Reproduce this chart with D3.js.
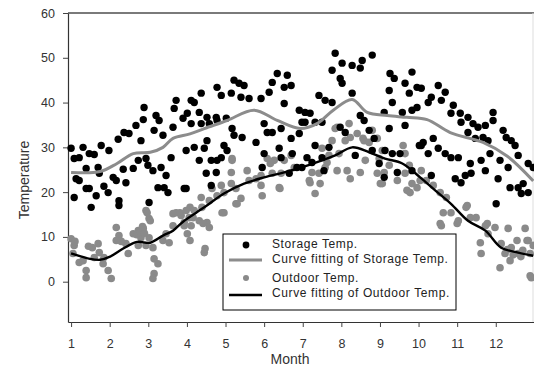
<!DOCTYPE html>
<html>
<head>
<meta charset="utf-8">
<script src="https://cdn.jsdelivr.net/npm/d3@7"></script>
<style>
  body { margin: 0; background: #fff; }
  svg { display: block; font-family: "Liberation Sans", Arial, sans-serif; }
</style>
</head>
<body>
<svg id="drawing_region"></svg>
<script>
// month, temperature
const storagePoints = [
  [1.00,29.8],[1.08,27.5],[1.21,27.7],[1.31,30.0],[1.47,28.6],[1.60,28.4],[1.78,30.4],[1.98,29.3],[2.22,31.8],[2.37,33.3],
  [2.50,33.1],[2.68,34.9],[2.89,38.9],[3.20,37.1],[3.28,36.0],[2.87,36.2],[2.81,31.5],[3.15,33.8],[3.38,32.7],[3.64,34.5],
  [3.72,40.5],[3.67,38.7],[3.90,36.5],[1.39,25.3],[1.13,23.0],[1.21,22.6],[1.70,25.5],[1.73,24.2],[2.09,23.3],[2.17,22.6],
  [1.85,21.3],[1.96,19.9],[1.39,20.8],[1.47,20.8],[1.08,18.8],[1.65,19.2],[1.52,16.6],[2.24,18.1],[2.24,17.0],[2.42,22.1],
  [2.35,25.1],[2.61,25.3],[2.74,27.1],[2.94,27.5],[2.99,26.0],[3.12,24.8],[3.33,25.5],[3.46,23.7],[3.25,21.0],[3.41,21.0],
  [3.51,19.9],[3.02,17.7],[3.59,27.7],[3.93,20.8],
  [4.11,40.5],[4.19,40.0],[4.37,42.1],[4.78,43.4],[4.89,41.6],[5.22,45.0],[5.35,44.3],[5.48,43.8],[5.15,42.1],[5.40,41.2],
  [5.61,40.9],[5.92,40.9],[6.13,42.3],[6.34,46.5],[6.60,46.1],[6.21,44.5],[6.52,43.4],[6.70,43.8],[6.52,39.8],[6.91,38.3],
  [4.01,37.6],[4.32,37.8],[4.52,36.7],[4.76,36.7],[4.78,36.0],[5.02,36.5],[4.11,35.3],[4.37,35.3],[4.58,35.3],[5.17,34.2],
  [5.22,32.7],[5.43,32.2],[5.79,31.1],[6.00,35.3],[6.08,33.3],[6.21,33.3],[6.44,34.2],[6.70,32.0],[6.91,33.1],[6.98,35.6],
  [3.98,29.3],[4.19,30.0],[4.45,29.8],[4.52,31.5],[4.96,30.4],[5.04,29.3],[4.89,27.7],[4.32,27.1],[4.63,27.1],[4.78,27.1],
  [6.00,28.6],[6.39,29.8],[6.44,27.7],[6.73,28.6],[4.50,24.2],[4.76,24.4],[5.95,25.5],[3.98,20.8],[4.63,21.5],[6.65,24.2],
  [6.85,25.5],
  [7.84,51.0],[8.02,48.8],[7.76,47.2],[8.28,48.3],[8.54,49.4],[8.80,50.6],[8.49,47.7],[7.97,45.4],[8.02,44.3],[9.26,46.5],
  [9.37,45.4],[9.83,46.8],[9.65,44.3],[9.24,42.7],[9.76,42.1],[9.96,43.4],[9.32,40.0],[9.58,37.8],[9.83,38.3],[9.96,38.9],
  [7.42,41.6],[7.58,40.5],[7.76,40.0],[8.28,42.1],[7.06,37.8],[7.19,37.6],[7.06,35.6],[7.32,35.6],[7.50,35.6],[8.49,37.1],
  [8.59,36.0],[9.11,37.8],[9.24,34.2],[9.65,34.9],[7.97,34.5],[8.10,33.3],[8.72,33.8],[8.85,32.0],[7.32,30.4],[7.68,30.0],
  [7.11,27.7],[7.24,26.6],[7.50,27.7],[8.36,28.2],[8.80,29.3],[9.13,29.3],[9.32,28.6],[9.52,28.6],[8.98,26.4],[9.83,24.8],
  [9.11,23.3],[9.45,24.4],[10.02,30.4],[6.98,25.5],[7.55,24.8],
  [10.07,43.2],[10.51,43.8],[10.69,42.3],[10.33,41.2],[10.59,40.5],[10.25,40.0],[10.90,39.4],[10.84,37.6],[11.08,37.6],[11.10,35.6],
  [11.28,36.7],[11.41,35.3],[11.54,34.5],[11.73,34.9],[11.93,37.8],[11.93,36.0],[11.28,33.3],[11.47,32.0],[11.67,32.2],[11.80,31.5],
  [11.85,28.6],[12.19,33.8],[12.27,32.2],[12.40,31.5],[12.50,30.4],[12.58,28.2],[12.11,27.1],[12.32,25.5],[12.84,26.4],[12.97,25.5],
  [12.37,21.0],[12.58,21.0],[12.71,21.9],[12.84,19.9],[12.66,19.7],[12.06,23.0],[12.01,17.4],[11.73,24.8],[11.36,24.2],[11.21,23.7],
  [10.95,23.0],[11.10,22.1],[11.34,26.4],[11.62,27.1],[10.12,31.1],[10.38,32.0],[10.07,30.4],[10.51,29.8],[10.69,28.6],[10.84,27.7],
  [11.03,27.7],[10.25,28.6],[10.33,23.7]
];

const outdoorPoints = [
  [1.00,9.6],[1.08,8.1],[1.05,6.3],[1.21,4.3],[1.39,2.5],[1.39,0.9],[1.31,4.7],[1.70,8.5],[1.73,6.5],[1.60,5.4],
  [1.83,4.0],[1.96,2.5],[2.04,0.7],[1.85,5.4],[2.17,12.1],[2.24,10.3],[2.17,9.2],[2.42,8.5],[2.48,6.3],[2.61,10.7],
  [2.74,11.4],[2.87,11.9],[2.81,9.8],[2.94,15.9],[3.02,14.1],[3.02,9.8],[3.12,7.6],[3.15,5.1],[3.25,4.0],[3.15,1.8],
  [3.12,0.7],[3.38,9.2],[3.46,10.7],[3.54,8.7],[3.64,12.5],[3.72,15.4],[3.85,14.8],[3.93,12.5],[2.74,8.1],[2.94,8.1],
  [2.97,15.4],[3.05,13.6],[3.64,15.2],[3.82,15.4],[4.08,16.6],[4.16,14.3],[4.01,10.7],[4.08,9.2],
  [2.70,10.5],[2.80,11.0],[2.90,10.8],[2.85,12.3],[1.10,9.0],[1.55,7.6],[1.45,7.9],[2.30,9.0],
  [5.17,27.5],[5.15,24.4],[5.56,24.8],[5.61,22.6],[5.92,21.5],[5.95,19.2],[6.08,27.5],[6.26,27.1],[6.21,24.2],[6.44,24.2],
  [6.39,21.0],[6.52,27.1],[6.78,25.5],[6.70,28.2],[4.89,21.5],[5.15,21.9],[5.27,20.8],[4.96,19.9],[5.27,17.4],[5.40,18.6],
  [4.65,20.8],[4.78,19.2],[4.58,18.1],[4.37,18.8],[4.39,16.6],[4.96,15.4],[4.19,15.9],[4.06,14.3],[4.11,12.5],[4.32,13.6],
  [4.52,13.2],[4.58,12.1],[4.45,6.5],[3.98,15.9],[3.93,13.2],[5.92,23.7],[5.79,23.0],
  [4.42,13.0],[4.47,7.4],[4.91,15.4],[5.30,17.4],[6.41,20.8],[7.19,22.1],[9.01,21.9],[9.70,20.4],
  [10.56,13.0],[11.00,13.0],[11.26,17.0],[11.78,13.0],[12.37,4.7],[12.89,1.3],[12.55,9.2],[12.81,9.2],
  [5.17,27.1],[6.16,26.4],[7.89,34.5],[8.23,32.2],[8.56,32.0],[9.60,30.4],[9.06,29.3],
  [7.84,34.2],[8.10,31.5],[7.76,31.5],[8.20,35.3],[8.41,33.1],[8.59,31.5],[8.80,33.8],[8.72,31.1],[8.93,32.0],[7.50,29.8],
  [7.68,28.2],[7.94,28.6],[7.63,26.6],[7.58,25.5],[7.24,24.4],[7.42,24.2],[7.17,22.6],[7.45,21.9],[7.32,19.7],[7.89,24.8],
  [8.15,24.8],[8.23,23.0],[8.49,24.4],[8.62,27.1],[8.98,27.5],[9.24,26.0],[9.11,24.4],[8.93,24.2],[9.06,21.9],[9.45,22.6],
  [9.65,28.6],[9.76,26.0],[9.65,24.2],[9.83,21.9],[9.96,21.0],[9.78,19.9],
  [10.07,24.8],[10.20,22.6],[10.38,21.5],[10.56,19.9],[10.72,18.8],[10.64,15.4],[10.84,15.4],[10.59,12.5],[11.03,13.6],[11.23,16.6],
  [11.34,14.3],[11.49,14.3],[11.73,12.5],[11.80,10.7],[11.98,12.1],[11.60,8.7],[11.62,6.3],[12.14,8.5],[12.32,11.9],[12.40,7.6],
  [12.58,6.3],[12.24,6.3],[12.11,3.1],[12.76,11.9],[12.84,9.2],[12.97,8.1],[12.89,6.3],[12.92,0.9],[10.04,22.6],
  [12.45,6.0],[12.65,5.6],[12.70,7.0],[12.30,7.2]
];

const storageCurve = [
  [1.00,24.4],[1.75,24.6],[2.19,26.4],[2.61,28.6],[3.05,28.9],[3.38,30.0],[3.64,32.0],[4.08,33.0],[4.45,34.2],[5.04,36.0],
  [5.74,38.3],[6.34,36.0],[6.93,34.2],[7.37,35.3],[7.79,38.3],[8.28,40.7],[8.67,37.8],[9.19,37.1],[9.70,36.7],[10.22,36.2],
  [10.82,33.3],[11.67,31.1],[12.30,28.0],[12.97,22.5]
];

const outdoorCurve = [
  [1.00,6.3],[1.49,5.1],[1.75,4.9],[2.01,5.6],[2.35,7.4],[2.71,8.9],[3.05,8.7],[3.38,10.3],[3.64,11.4],[3.90,13.4],
  [4.45,16.6],[4.96,19.7],[5.48,21.9],[6.00,23.3],[6.52,24.4],[6.96,25.5],[7.50,27.1],[7.84,28.2],[8.28,30.0],[8.72,28.9],
  [9.13,27.5],[9.58,26.4],[10.04,23.3],[10.43,20.4],[10.84,17.4],[11.28,13.6],[11.73,11.4],[12.14,7.6],[12.58,6.5],[12.97,5.8]
];

const monthTicks = [1,2,3,4,5,6,7,8,9,10,11,12,13];
const tempTicks = [0,10,20,30,40,50,60];
const legendLabels = ["Storage Temp.", "Curve fitting of Storage Temp.", "Outdoor Temp.", "Curve fitting of Outdoor Temp."];

const width = 534, height = 366;
const margin = { top: 13, right: 0, bottom: 44, left: 68 };
const innerW = width - margin.left - margin.right;
const innerH = height - margin.top - margin.bottom;

const svg = d3.select('#drawing_region')
  .attr('width', width)
  .attr('height', height);

const chart = svg.append('g')
  .attr('transform', `translate(${margin.left}, ${margin.top})`);

const xscale = d3.scaleLinear().domain([0.92, 12.99]).range([0, innerW]);
const yscale = d3.scaleLinear().domain([-9, 60]).range([innerH, 0]);

// frame: top and right
chart.append('line')
  .attr('x1', 0).attr('x2', innerW).attr('y1', 0).attr('y2', 0)
  .attr('stroke', '#7a7a7a').attr('stroke-width', 2);
chart.append('line')
  .attr('x1', innerW - 1).attr('x2', innerW - 1).attr('y1', 0).attr('y2', innerH)
  .attr('stroke', '#dddddd').attr('stroke-width', 1);

// axes
const xaxis = d3.axisBottom(xscale)
  .tickValues(monthTicks)
  .tickFormat(d => d <= 12 ? d : '')
  .tickSize(5)
  .tickPadding(12)
  .tickSizeOuter(0);

const yaxis = d3.axisLeft(yscale)
  .tickValues(tempTicks)
  .tickSize(5)
  .tickPadding(8)
  .tickSizeOuter(0);

const xg = chart.append('g')
  .attr('transform', `translate(0, ${innerH})`)
  .call(xaxis);
const yg = chart.append('g').call(yaxis);

[xg, yg].forEach(g => {
  g.select('.domain').attr('stroke', '#333').attr('stroke-width', 1.2);
  g.selectAll('.tick line').attr('stroke', '#444');
  g.selectAll('.tick text')
    .attr('fill', '#333')
    .attr('font-size', 12.5)
    .attr('font-family', '"Liberation Sans", Arial, sans-serif');
});

// points
chart.append('g')
  .selectAll('circle')
  .data(outdoorPoints)
  .join('circle')
  .attr('cx', d => xscale(d[0]))
  .attr('cy', d => yscale(d[1]))
  .attr('r', 3.8)
  .attr('fill', '#8a8a8a');

chart.append('g')
  .selectAll('circle')
  .data(storagePoints)
  .join('circle')
  .attr('cx', d => xscale(d[0]))
  .attr('cy', d => yscale(d[1]))
  .attr('r', 3.7)
  .attr('fill', '#000');

// curves
const line = d3.line()
  .x(d => xscale(d[0]))
  .y(d => yscale(d[1]))
  .curve(d3.curveCatmullRom.alpha(0.5));

chart.append('path')
  .datum(storageCurve)
  .attr('d', line)
  .attr('fill', 'none')
  .attr('stroke', '#8c8c8c')
  .attr('stroke-width', 3);

chart.append('path')
  .datum(outdoorCurve)
  .attr('d', line)
  .attr('fill', 'none')
  .attr('stroke', '#000')
  .attr('stroke-width', 2.4);

// axis titles
svg.append('text')
  .attr('x', 290)
  .attr('y', 364)
  .attr('text-anchor', 'middle')
  .attr('font-size', 14)
  .attr('fill', '#333')
  .text('Month');

svg.append('text')
  .attr('transform', 'translate(29, 180) rotate(-90)')
  .attr('text-anchor', 'middle')
  .attr('font-size', 14)
  .attr('fill', '#333')
  .text('Temperature');

// legend
const legend = svg.append('g').attr('transform', 'translate(223, 234)');
legend.append('rect')
  .attr('width', 233)
  .attr('height', 76)
  .attr('fill', '#fff')
  .attr('stroke', '#000')
  .attr('stroke-width', 1);

const rows = [14, 29, 48, 63];
legend.append('circle').attr('cx', 23).attr('cy', rows[0] - 3).attr('r', 3.4).attr('fill', '#000');
legend.append('line').attr('x1', 6).attr('x2', 39).attr('y1', rows[1] - 3).attr('y2', rows[1] - 3)
  .attr('stroke', '#8c8c8c').attr('stroke-width', 3);
legend.append('circle').attr('cx', 23).attr('cy', rows[2] - 4).attr('r', 3).attr('fill', '#8a8a8a');
legend.append('line').attr('x1', 6).attr('x2', 39).attr('y1', rows[3] - 2).attr('y2', rows[3] - 2)
  .attr('stroke', '#000').attr('stroke-width', 2.4);

legend.selectAll('text.label')
  .data(legendLabels)
  .join('text')
  .attr('class', 'label')
  .attr('x', 49)
  .attr('y', (d, i) => rows[i])
  .attr('font-size', 12)
  .attr('letter-spacing', 0.6)
  .attr('fill', '#222')
  .text(d => d);
</script>
</body>
</html>
